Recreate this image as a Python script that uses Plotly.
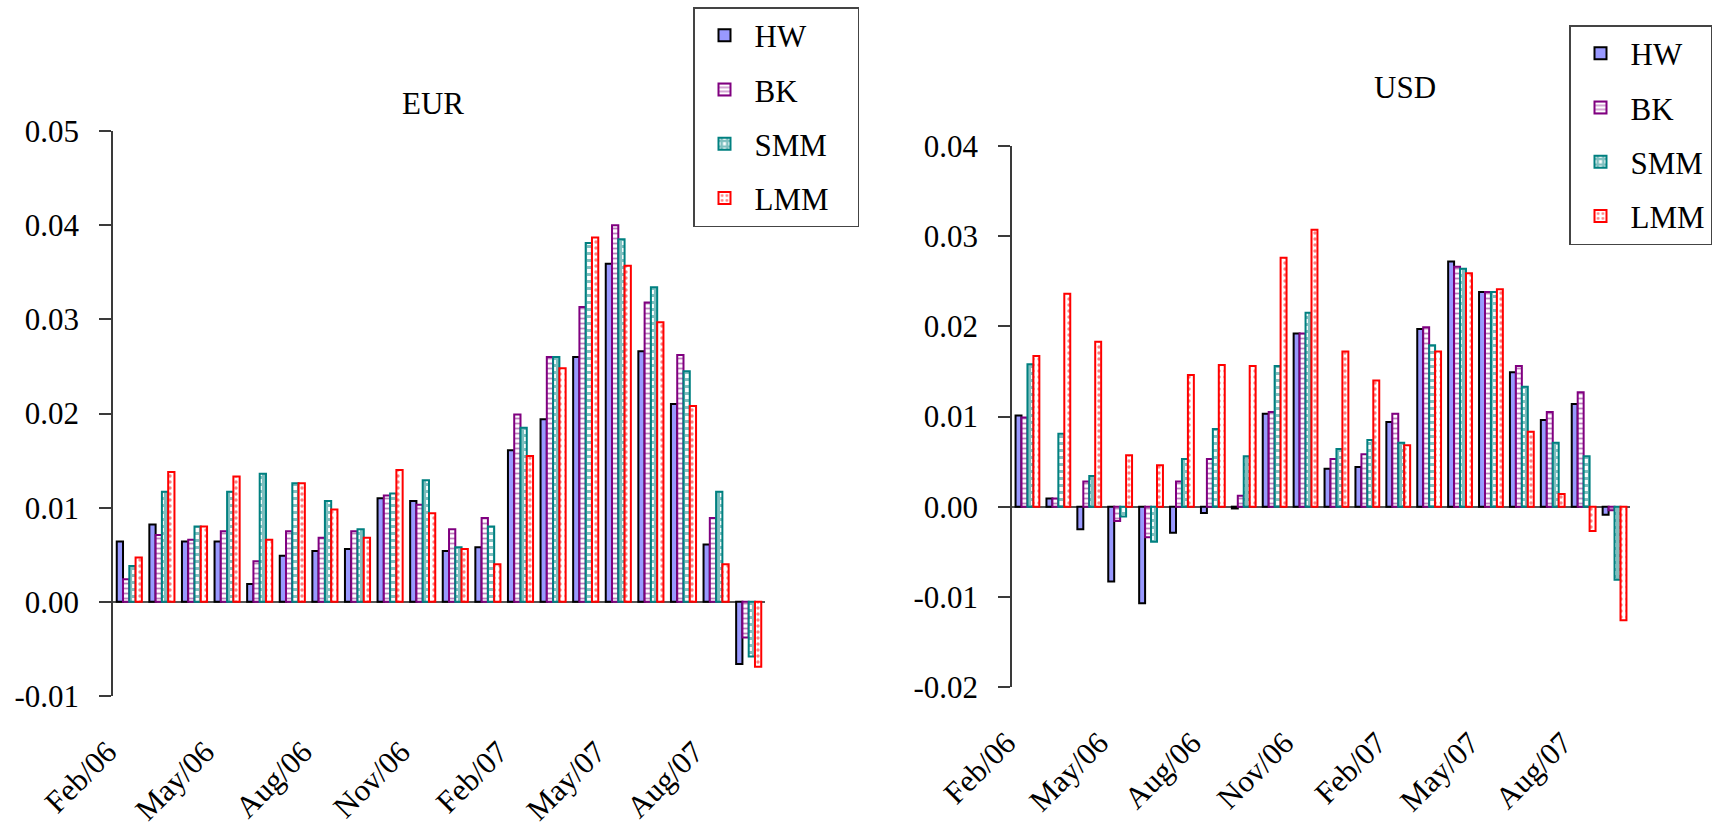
import plotly.graph_objects as go

# Monthly categories (Feb/06 .. Sep/07)
months = ["Feb/06", "Mar/06", "Apr/06", "May/06", "Jun/06", "Jul/06", "Aug/06",
          "Sep/06", "Oct/06", "Nov/06", "Dec/06", "Jan/07", "Feb/07", "Mar/07",
          "Apr/07", "May/07", "Jun/07", "Jul/07", "Aug/07", "Sep/07"]

# EUR series
eur_hw = [0.0064, 0.0082, 0.0064, 0.0064, 0.0019, 0.0049, 0.0054, 0.0056, 0.0110, 0.0107,
          0.0054, 0.0058, 0.0161, 0.0194, 0.0260, 0.0359, 0.0266, 0.0210, 0.0061, -0.0066]
eur_bk = [0.0024, 0.0071, 0.0066, 0.0075, 0.0043, 0.0075, 0.0068, 0.0075, 0.0113, 0.0103,
          0.0077, 0.0089, 0.0199, 0.0260, 0.0313, 0.0400, 0.0318, 0.0262, 0.0089, -0.0038]
eur_smm = [0.0038, 0.0117, 0.0080, 0.0117, 0.0136, 0.0126, 0.0107, 0.0077, 0.0115, 0.0129,
           0.0058, 0.0080, 0.0185, 0.0260, 0.0381, 0.0385, 0.0334, 0.0245, 0.0117, -0.0058]
eur_lmm = [0.0047, 0.0138, 0.0080, 0.0133, 0.0066, 0.0126, 0.0098, 0.0068, 0.0140, 0.0094,
           0.0056, 0.0040, 0.0155, 0.0248, 0.0387, 0.0357, 0.0297, 0.0208, 0.0040, -0.0069]

# USD series
usd_hw = [0.0101, 0.0009, -0.0025, -0.0083, -0.0107, -0.0029, -0.0007, -0.0002, 0.0103, 0.0192,
          0.0042, 0.0044, 0.0094, 0.0197, 0.0272, 0.0238, 0.0149, 0.0096, 0.0114, -0.0009]
usd_bk = [0.0099, 0.0009, 0.0028, -0.0016, -0.0034, 0.0028, 0.0053, 0.0012, 0.0105, 0.0192,
          0.0053, 0.0058, 0.0103, 0.0199, 0.0266, 0.0238, 0.0156, 0.0105, 0.0127, -0.0004]
usd_smm = [0.0158, 0.0081, 0.0034, -0.0011, -0.0039, 0.0053, 0.0086, 0.0056, 0.0156, 0.0215,
           0.0064, 0.0074, 0.0071, 0.0179, 0.0264, 0.0238, 0.0133, 0.0071, 0.0056, -0.0081]
usd_lmm = [0.0167, 0.0236, 0.0183, 0.0057, 0.0046, 0.0146, 0.0157, 0.0156, 0.0276, 0.0307,
           0.0172, 0.0140, 0.0068, 0.0172, 0.0259, 0.0241, 0.0083, 0.0014, -0.0027, -0.0126]

series_names = ["HW", "BK", "SMM", "LMM"]

eur_ticks = [-0.01, 0.00, 0.01, 0.02, 0.03, 0.04, 0.05]
eur_tick_text = ["-0.01", "0.00", "0.01", "0.02", "0.03", "0.04", "0.05"]
usd_ticks = [-0.02, -0.01, 0.00, 0.01, 0.02, 0.03, 0.04]
usd_tick_text = ["-0.02", "-0.01", "0.00", "0.01", "0.02", "0.03", "0.04"]

W, H = 1716, 830
FONT = "Liberation Serif, Times New Roman, serif"
AXIS_COLOR = "#3a3a3a"
FS = 31
NBSP = "\u00a0"

styles = {
    "HW": dict(color="#9999FF", line=dict(color="black", width=2)),
    "BK": dict(color="white", line=dict(color="#800080", width=2),
               pattern=dict(shape="-", fgcolor="#800080", bgcolor="white",
                            size=5, solidity=0.35, fillmode="overlay")),
    "SMM": dict(color="white", line=dict(color="#008080", width=2),
                pattern=dict(shape="+", fgcolor="#008080", bgcolor="white",
                             size=7, solidity=0.7, fillmode="overlay")),
    "LMM": dict(color="white", line=dict(color="#FF0000", width=2),
                pattern=dict(shape=".", fgcolor="#FF0000", bgcolor="white",
                             size=6, solidity=0.25, fillmode="overlay")),
}

idx = list(range(len(months)))
label_pos = [i - 0.5 for i in idx[::3]]
# a trailing no-break space keeps the rotated label tips just past the tick
label_text = [m + NBSP for m in months[::3]]
minor_pos = label_pos[1:]

fig = go.Figure()

panels = [
    ("x", "y", "legend", 3, [eur_hw, eur_bk, eur_smm, eur_lmm]),
    ("x2", "y2", "legend2", 0, [usd_hw, usd_bk, usd_smm, usd_lmm]),
]
for xa, ya, lg, pad, data in panels:
    for name, vals in zip(series_names, data):
        fig.add_trace(go.Bar(
            x=idx, y=vals, name=name + NBSP * pad, xaxis=xa, yaxis=ya,
            marker=styles[name], legend=lg, legendgroup=lg + name,
            hovertext=months,
        ))

# Plot-area placement (pixels -> paper fractions)
eur_dom_x = [113 / W, 765 / W]
eur_dom_y = [1 - 696 / H, 1 - 131 / H]
usd_dom_x = [1012 / W, 1630 / W]
usd_dom_y = [1 - 687 / H, 1 - 146 / H]
eur_range = [-0.01, 0.05]
usd_range = [-0.02, 0.04]


def zero_pos(dom, rng):
    return dom[0] + (0 - rng[0]) / (rng[1] - rng[0]) * (dom[1] - dom[0])


xr = [-0.5, len(months) - 0.5]
common_x = dict(range=xr, showgrid=False, zeroline=False, showline=False,
                automargin=False,
                tickfont=dict(family=FONT, size=FS, color="black"))
tick_x = dict(tickvals=label_pos, ticktext=label_text, tickangle=-45,
              ticks="", ticklabelstandoff=25)
common_y = dict(showgrid=False, showline=True, linecolor=AXIS_COLOR, linewidth=1.5,
                ticks="outside", ticklen=12, tickwidth=1.5, tickcolor=AXIS_COLOR,
                zeroline=True, zerolinecolor="#555555", zerolinewidth=1.5,
                ticklabelstandoff=14, automargin=False,
                tickfont=dict(family=FONT, size=FS, color="black"))
inner_y = dict(side="left", ticks="inside", ticklen=11, tickwidth=1.5,
               tickcolor=AXIS_COLOR, showticklabels=False, showline=False,
               showgrid=False, zeroline=False, automargin=False)
zero_x = dict(side="top", anchor="free", ticks="outside", ticklen=9, tickwidth=1.5,
              tickcolor=AXIS_COLOR, showticklabels=False, showline=False,
              showgrid=False, zeroline=False, automargin=False, tickvals=minor_pos)
legend_common = dict(xanchor="left", yanchor="top", bgcolor="white",
                     bordercolor="#444", borderwidth=1.5,
                     font=dict(family=FONT, size=FS, color="black"),
                     itemwidth=50, tracegroupgap=11, traceorder="grouped")

fig.update_layout(
    width=W, height=H,
    margin=dict(l=0, r=0, t=0, b=0, autoexpand=False),
    paper_bgcolor="white", plot_bgcolor="white",
    barmode="group", bargap=0.23, bargroupgap=0.0,
    font=dict(family=FONT, size=FS, color="black"),
    showlegend=True,
    xaxis=dict(domain=eur_dom_x, anchor="y", **common_x, **tick_x),
    yaxis=dict(domain=eur_dom_y, anchor="x", range=eur_range,
               tickvals=eur_ticks, ticktext=eur_tick_text, **common_y),
    xaxis2=dict(domain=usd_dom_x, anchor="y2", **common_x, **tick_x),
    yaxis2=dict(domain=usd_dom_y, anchor="x2", range=usd_range,
                tickvals=usd_ticks, ticktext=usd_tick_text, **common_y),
    # inner halves of the crossing y ticks
    yaxis3=dict(overlaying="y", matches="y", anchor="x", tickvals=eur_ticks, **inner_y),
    yaxis4=dict(overlaying="y2", matches="y2", anchor="x2", tickvals=usd_ticks, **inner_y),
    # small quarter ticks sitting on the zero line
    xaxis3=dict(overlaying="x", matches="x",
                position=zero_pos(eur_dom_y, eur_range), **zero_x),
    xaxis4=dict(overlaying="x2", matches="x2",
                position=zero_pos(usd_dom_y, usd_range), **zero_x),
    legend=dict(x=693 / W, y=1 - 7 / H, **legend_common),
    legend2=dict(x=1569 / W, y=1 - 25 / H, **legend_common),
    annotations=[
        dict(text="EUR", x=433 / W, y=1 - 104 / H, xref="paper", yref="paper",
             xanchor="center", yanchor="middle", showarrow=False,
             font=dict(family=FONT, size=FS, color="black")),
        dict(text="USD", x=1405 / W, y=1 - 87 / H, xref="paper", yref="paper",
             xanchor="center", yanchor="middle", showarrow=False,
             font=dict(family=FONT, size=FS, color="black")),
    ],
)

fig.write_html("out.html")
